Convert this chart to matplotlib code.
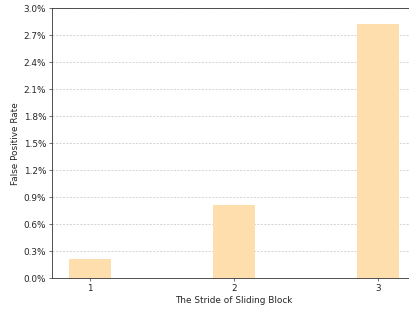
import matplotlib
matplotlib.use('Agg')
import matplotlib.pyplot as plt
from matplotlib.ticker import FuncFormatter

# stride values and false positive rate (in percent)
strides = [1, 2, 3]
fp_rate = [0.22, 0.81, 2.83]
y_ticks = [0.0, 0.3, 0.6, 0.9, 1.2, 1.5, 1.8, 2.1, 2.4, 2.7, 3.0]

fs = 6.4
txt = '#262626'
fig = plt.figure(figsize=(4.09, 3.10), dpi=100)
ax = fig.add_axes([0.128, 0.102, 0.887, 0.871])

ax.set_axisbelow(True)
ax.yaxis.grid(True, linestyle=(0, (3, 2)), color='#c4c4c4', linewidth=0.5)
ax.bar(strides, fp_rate, width=0.29, color='#FFDEAD')

ax.set_ylim(0, 3.0)
ax.set_yticks(y_ticks)
ax.yaxis.set_major_formatter(FuncFormatter(lambda v, p: f'{v:.1f}%'))
ax.set_xticks(strides)
ax.set_xlim(0.74, 3.26)

ax.set_xlabel('The Stride of Sliding Block', fontsize=fs, labelpad=2.0, color=txt)
ax.set_ylabel('False Positive Rate', fontsize=fs, labelpad=2.5, color=txt)
ax.tick_params(labelsize=fs, length=2.2, width=0.5, pad=2.2, labelcolor=txt, color='#333333')
for s in ax.spines.values():
    s.set_linewidth(0.6)
    s.set_color('#333333')

fig.savefig('out.png', dpi=100)
